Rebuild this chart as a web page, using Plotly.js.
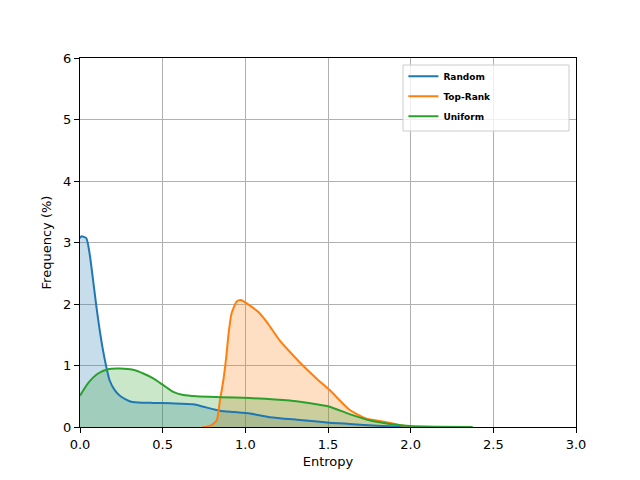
<!DOCTYPE html>
<html>
<head>
<meta charset="utf-8">
<script src="https://cdn.plot.ly/plotly-3.0.1.min.js"></script>
<style>html,body{margin:0;padding:0;background:#fff;}#chart{width:640px;height:480px;}</style>
</head>
<body>
<div id="chart"></div>
<script>
// Random
const randomX = [0.0, 0.008, 0.038, 0.058, 0.079, 0.099, 0.119, 0.139, 0.159, 0.179, 0.21, 0.245, 0.31, 0.39, 0.44, 0.55, 0.685, 0.746, 0.847, 0.93, 1.028, 1.149, 1.33, 1.51, 1.63, 1.8, 2.0];
const randomY = [3.07, 3.10, 3.07, 2.82, 2.39, 1.96, 1.58, 1.25, 0.98, 0.76, 0.60, 0.50, 0.41, 0.395, 0.392, 0.385, 0.37, 0.33, 0.265, 0.245, 0.22, 0.16, 0.115, 0.07, 0.05, 0.02, 0.0];
// Top-Rank
const topX = [0.74, 0.766, 0.80, 0.827, 0.847, 0.867, 0.885, 0.90, 0.917, 0.948, 0.972, 1.008, 1.079, 1.129, 1.21, 1.27, 1.33, 1.43, 1.51, 1.63, 1.73, 1.83, 1.94, 2.0];
const topY = [0.0, 0.005, 0.04, 0.11, 0.44, 0.76, 1.15, 1.55, 1.85, 2.04, 2.065, 2.01, 1.87, 1.71, 1.40, 1.22, 1.05, 0.79, 0.60, 0.28, 0.14, 0.09, 0.03, 0.0];
// Uniform
const uniX = [0.0, 0.048, 0.109, 0.169, 0.242, 0.32, 0.383, 0.443, 0.504, 0.564, 0.625, 0.706, 0.85, 1.028, 1.27, 1.33, 1.43, 1.51, 1.63, 1.75, 1.875, 1.996, 2.15, 2.375];
const uniY = [0.51, 0.71, 0.87, 0.94, 0.95, 0.93, 0.87, 0.79, 0.68, 0.57, 0.52, 0.50, 0.485, 0.47, 0.43, 0.41, 0.37, 0.33, 0.21, 0.11, 0.05, 0.016, 0.005, 0.0];

const names = ['Random', 'Top-Rank', 'Uniform'];
const colors = ['#1f77b4', '#ff7f0e', '#2ca02c'];
const fills = ['rgba(31,119,180,0.25)', 'rgba(255,127,14,0.25)', 'rgba(44,160,44,0.25)'];
const xs = [randomX, topX, uniX];
const ys = [randomY, topY, uniY];

const traces = [];
for (let i = 0; i < 3; i++) {
  traces.push({x: xs[i], y: ys[i], type: 'scatter', mode: 'none', fill: 'tozeroy',
    fillcolor: fills[i], line: {shape: 'spline', smoothing: 0.6}, showlegend: false, hoverinfo: 'skip'});
}
for (let i = 0; i < 3; i++) {
  traces.push({x: xs[i], y: ys[i], type: 'scatter', mode: 'lines', name: names[i], legendgroup: 'g' + i,
    line: {color: colors[i], width: 2, shape: 'spline', smoothing: 0.6}});
}

const axisCommon = {
  showline: true, linecolor: '#000', linewidth: 1, mirror: true,
  ticks: 'outside', ticklen: 5, tickcolor: '#000', tickwidth: 1,
  showgrid: true, gridcolor: '#b0b0b0', gridwidth: 1, zeroline: false,
  tickfont: {family: 'DejaVu Sans', size: 13, color: '#000'}
};

const layout = {
  width: 640, height: 480,
  margin: {l: 80, r: 64, t: 58, b: 53},
  paper_bgcolor: '#fff', plot_bgcolor: '#fff',
  font: {family: 'DejaVu Sans', color: '#000'},
  xaxis: Object.assign({}, axisCommon, {range: [0, 3], dtick: 0.5, tick0: 0, tickformat: '.1f',
    title: {text: 'Entropy', font: {family: 'DejaVu Sans', size: 13}, standoff: 6}}),
  yaxis: Object.assign({}, axisCommon, {range: [0, 6], dtick: 1, tick0: 0,
    title: {text: 'Frequency (%)', font: {family: 'DejaVu Sans', size: 13}, standoff: 8}}),
  shapes: [{type: 'rect', xref: 'paper', yref: 'paper',
    x0: (403 - 80) / 496, x1: (569 - 80) / 496, y0: (427 - 131) / 369, y1: (427 - 65) / 369,
    line: {color: '#cccccc', width: 1}, fillcolor: 'rgba(255,255,255,0.8)', layer: 'above'}],
  legend: {x: 0.652, y: 0.990, xanchor: 'left', yanchor: 'top',
    bgcolor: 'rgba(0,0,0,0)', borderwidth: 0, traceorder: 'grouped', tracegroupgap: 1,
    font: {family: 'DejaVu Sans', size: 9, weight: 'bold', color: '#000'}},
  showlegend: true
};

Plotly.newPlot('chart', traces, layout, {displayModeBar: false, staticPlot: true});
</script>
</body>
</html>
